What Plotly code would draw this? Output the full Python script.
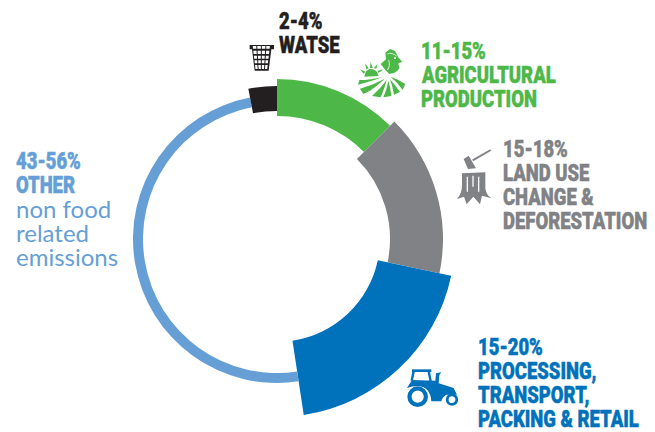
import re
import numpy as np
import plotly.graph_objects as go

W, H = 655, 432

# Ring segments, clockwise from twelve o'clock
segments = ["Agricultural production", "Land use change & deforestation",
            "Processing, transport, packing & retail", "Other", "Waste"]
shares = [12.5, 15.8, 19.3, 49.4, 3.0]
ring_inner = [123, 113, 103, 134, 128]
ring_outer = [160, 166, 178, 144, 153]

GREEN, GREY, BLUE, SKY, INK = "#4DB848", "#808285", "#0072BC", "#659FD6", "#231F20"
segment_colors = [GREEN, GREY, BLUE, SKY, INK]

HEAVY = "Roboto"
LIGHT = "Lato"
NARROW = 0.77  # horizontal squeeze for the heavy headline lines

# Text block: left edge, first line centre, colour, lines as (text, heavy?)
labels = [
    (279, 21, INK, [("2-4%", 1), ("WATSE", 1)]),
    (421, 51, GREEN, [("11-15%", 1), ("AGRICULTURAL", 1), ("PRODUCTION", 1)]),
    (503, 149, GREY, [("15-18%", 1), ("LAND USE", 1), ("CHANGE &", 1), ("DEFORESTATION", 1)]),
    (478, 347, BLUE, [("15-20%", 1), ("PROCESSING,", 1), ("TRANSPORT,", 1), ("PACKING & RETAIL", 1)]),
    (16, 161, SKY, [("43-56%", 1), ("OTHER", 1), ("non food", 0), ("related", 0), ("emissions", 0)]),
]
LINE_STEP = 23.9

cumulative = np.cumsum([0] + shares)
theta = (cumulative[:-1] + np.array(shares) / 2) * 3.6
widths = np.array(shares) * 3.6
thickness = np.array(ring_outer) - np.array(ring_inner)

# Ring centre (277, 239) in page pixels; the radial axis spans 180 px
CX, CY, RMAX = 277, 239, 180

fig = go.Figure(go.Barpolar(
    theta=theta, width=widths, base=ring_inner, r=thickness,
    marker=dict(color=segment_colors, line=dict(width=0)),
    hovertext=segments, hoverinfo="text",
))


def to_paper(path, ox=0, oy=0, k=1.0):
    """Turn an absolute x,y pixel path into paper coordinates."""
    nums = iter(range(10 ** 6))

    def conv(m):
        v = float(m.group())
        if next(nums) % 2 == 0:
            return f"{(ox + v * k) / W:.5f}"
        return f"{1 - (oy + v * k) / H:.5f}"

    return re.sub(r"-?\d+\.?\d*", conv, path)


shapes = []


def fill(path, color, ox, oy, k=1 / 3):
    shapes.append(dict(type="path", xref="paper", yref="paper", path=to_paper(path, ox, oy, k),
                       fillcolor=color, line=dict(width=0), layer="above"))


def stroke(path, color, width, ox, oy, k=1 / 3):
    shapes.append(dict(type="path", xref="paper", yref="paper", path=to_paper(path, ox, oy, k),
                       line=dict(color=color, width=width), layer="above"))


def ring(cx, cy, r, width, color):
    shapes.append(dict(type="circle", xref="paper", yref="paper",
                       x0=(cx - r) / W, x1=(cx + r) / W, y0=1 - (cy + r) / H, y1=1 - (cy - r) / H,
                       fillcolor="white", line=dict(color=color, width=width), layer="above"))


# Rooster, sun and furrowed field
ox, oy = 350, 40
fill("M92,72 L108,58 L106,38 L120,27 L135,33 L145,52 L157,66 L145,70 L148,85 Q140,100 118,102 L108,92 Z", GREEN, ox, oy)
stroke("M112,42 Q125,36 140,48", "white", 0.8, ox, oy)
stroke("M116,60 Q122,78 112,90", "white", 0.8, ox, oy)
fill("M132,52 L138,52 L138,57 L132,57 Z", "white", ox, oy)
fill("M43,110 Q45,88 63,87 Q82,88 85,108 Z", GREEN, ox, oy)
for ray in ["M30,88 L46,95 L41,101 Z", "M45,70 L56,85 L49,88 Z", "M62,65 L68,84 L60,84 Z",
            "M82,72 L79,87 L72,84 Z", "M100,88 L86,99 L83,92 Z"]:
    fill(ray, GREEN, ox, oy)
for furrow in ["M28,120 Q60,120 100,110 Q70,122 40,130 L24,134 Z",
               "M30,146 Q70,135 104,116 Q85,135 60,152 L40,162 Z",
               "M66,168 Q92,145 110,120 Q104,145 92,172 Z",
               "M100,172 Q110,150 115,122 Q122,145 124,168 Z",
               "M132,164 Q128,140 120,118 Q135,135 150,156 Z",
               "M122,110 Q140,125 158,150 L166,132 Q145,118 122,110 Z"]:
    fill(furrow, GREEN, ox, oy)

# Tree stump with an axe
ox, oy = 452, 145
fill("M35,42 L50,32 L72,70 L48,72 Z", GREY, ox, oy)
stroke("M62,46 L116,15", GREY, 2, ox, oy)
fill("M30,85 L100,82 L100,130 Q102,150 118,160 L90,152 L84,178 L64,155 L44,178 L36,155 L15,162 Q30,145 30,120 Z", GREY, ox, oy)
for groove in ["M46,95 L46,140", "M63,92 L63,125", "M80,95 L80,140"]:
    stroke(groove, "white", 1.3, ox, oy)

# Tractor
ox, oy = 402, 364
fill("M30,16 L88,16 L88,24 L30,24 Z", BLUE, ox, oy)
stroke("M35,22 L29,50", BLUE, 2.4, ox, oy)
stroke("M80,22 L86,52", BLUE, 2.4, ox, oy)
fill("M15,72 L30,48 L100,50 L102,28 L118,25 L112,33 L110,58 L155,72 L165,92 L133,92 Q120,100 118,112 L88,112 Q85,68 48,66 Q30,66 15,72 Z", BLUE, ox, oy)
ring(402 + 47 / 3, 364 + 98 / 3, 8.2, 4.2, BLUE)
ring(402 + 150 / 3, 364 + 107 / 3, 4.8, 2.8, BLUE)

# Waste basket
ox, oy = 244, 40
fill("M17,15 L90,15 L90,28 L82,28 L74,92 L32,92 L24,28 L17,28 Z", INK, ox, oy)
for row, (top, bottom) in enumerate([(18, 26), (32, 42), (47, 56), (61, 70), (75, 87)]):
    inset_t, inset_b = 8 + top * 0.12, 8 + bottom * 0.12
    for col in range(4):
        left_t = 16 + inset_t + col * (75 - 2 * inset_t) / 4
        left_b = 16 + inset_b + col * (75 - 2 * inset_b) / 4
        cell_t, cell_b = (75 - 2 * inset_t) / 4 - 3, (75 - 2 * inset_b) / 4 - 3
        fill(f"M{left_t:.1f},{top} L{left_t + cell_t:.1f},{top} L{left_b + cell_b:.1f},{bottom} L{left_b:.1f},{bottom} Z",
             "white", ox, oy)

annotations = []
for x, y, color, lines in labels:
    for i, (text, heavy) in enumerate(lines):
        annotations.append(dict(
            xref="paper", yref="paper", x=x / W, y=1 - (y + i * LINE_STEP) / H,
            xanchor="left", yanchor="middle", showarrow=False, align="left",
            text=text,
            font=dict(family=HEAVY if heavy else LIGHT, size=24, color=color,
                      weight=900 if heavy else 400),
            xshift=-2,
        ))

fig.update_layout(
    width=W, height=H, autosize=False,
    margin=dict(l=0, r=0, t=0, b=0),
    paper_bgcolor="white", plot_bgcolor="white",
    showlegend=False,
    polar=dict(
        domain=dict(x=[(CX - RMAX) / W, (CX + RMAX) / W],
                    y=[1 - (CY + RMAX) / H, 1 - (CY - RMAX) / H]),
        bgcolor="rgba(0,0,0,0)", bargap=0,
        angularaxis=dict(visible=False, direction="clockwise", rotation=90),
        radialaxis=dict(visible=False, range=[0, RMAX]),
    ),
    shapes=shapes, annotations=annotations,
)

# Squeeze the heavy lines sideways, anchored on their left edge, and fatten the strokes a touch
condense = """
document.querySelectorAll('.annotation-text').forEach(function (t) {
  var cs = getComputedStyle(t);
  if (parseInt(cs.fontWeight, 10) >= 700) {
    var x = parseFloat(t.getAttribute('x')) || 0;
    t.setAttribute('transform', 'translate(' + x + ',0) scale(%s,1) translate(' + (-x) + ',0)');
    t.style.stroke = cs.fill;
    t.style.strokeWidth = '0.5px';
  }
});
""" % NARROW

fig.write_html("out.html", config=dict(displayModeBar=False), post_script=condense)
